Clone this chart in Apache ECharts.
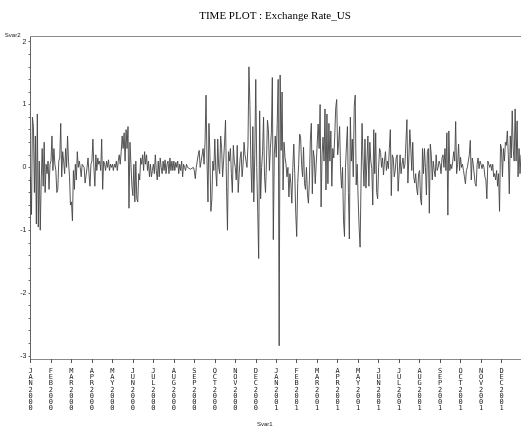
<!DOCTYPE html>
<html><head><meta charset="utf-8">
<script src="https://cdn.jsdelivr.net/npm/echarts@6/dist/echarts.min.js"></script>
<style>html,body{margin:0;padding:0;background:#fff}#c{width:521px;height:432px}</style>
</head><body><div id="c"></div>
<script>
const months = ['JAN2000','FEB2000','MAR2000','APR2000','MAY2000','JUN2000','JUL2000','AUG2000','SEP2000','OCT2000','NOV2000','DEC2000',
                'JAN2001','FEB2001','MAR2001','APR2001','MAY2001','JUN2001','JUL2001','AUG2001','SEP2001','OCT2001','NOV2001','DEC2001'];
const yLabels = [-3,-2,-1,0,1,2];
const yTicks = [-3,-2.8,-2.6,-2.4,-2.2,-2,-1.8,-1.6,-1.4,-1.2,-1,-0.8,-0.6,-0.4,-0.2,0,0.2,0.4,0.6,0.8,1,1.2,1.4,1.6,1.8,2];

const jan2000 = [-0.15,-0.75,0.8,0.65,-0.4,0.5,-0.9,0.85,-0.95,0.1,-1.0,-0.2,0.3,-0.3,0.4,-0.4,0.05,-0.1,0.1,-0.35,0.05];
const feb2000 = [0.1,0.5,-0.05,0.3,0.05,-0.05,-0.4,-0.35,0.1,0.15,0.7,-0.15,0.25,0.1,-0.1,0.3,0.0,0.5,0.1,-0.15,-0.6];
const mar2000 = [-0.55,-0.85,-0.05,-0.35,0.05,-0.2,0.25,0.0,0.1,0.0,-0.15,0.05,0.02,0.0,-0.25,-0.25,0.0,0.15,-0.1,-0.3,0.05];
const apr2000 = [0.1,0.45,0.0,-0.3,0.2,-0.05,0.15,0.05,0.1,-0.05,0.45,-0.35,0.1,0.05,-0.05,0.1,0.0,0.12,-0.05,0.05,0.0];
const may2000 = [0.05,-0.05,0.05,0.0,0.1,-0.05,0.1,0.2,0.05,0.25,0.5,0.3,0.55,0.1,0.6,0.3,0.65,-0.65,0.4,0.05,-0.3];
const jun2000 = [-0.45,0.05,-0.55,0.1,-0.5,-0.55,-0.1,-0.2,0.15,0.05,0.2,-0.05,0.25,0.05,0.2,-0.05,0.1,-0.15,0.05,-0.15,-0.05];
const jul2000 = [0.05,-0.1,0.2,-0.05,-0.2,0.1,-0.15,0.15,0.0,-0.1,0.1,-0.05,0.12,-0.1,0.05,0.1,-0.1,0.15,-0.05,0.1,-0.05];
const aug2000 = [0.1,-0.05,0.08,0.0,0.1,-0.1,0.05,-0.05,0.1,-0.15,0.05,0.0,-0.05,0.05,0.0,-0.02,0.02,-0.03,0.0,-0.05,0.0];
const sep2000 = [-0.05,-0.18,0.0,0.1,0.2,0.27,0.0,-0.02,0.0,0.3,0.05,0.4,1.15,0.1,-0.55,0.7,0.2,-0.7,-0.5,0.1,-0.05];
const oct2000 = [0.45,-0.05,-0.3,0.45,0.0,-0.1,0.5,0.3,-0.15,0.1,0.4,0.75,-0.3,-1.0,0.25,0.1,0.3,-0.1,-0.4,0.35,0.1];
const nov2000 = [0.0,-0.2,0.35,-0.4,-0.1,0.15,0.25,-0.15,0.05,0.4,0.2,0.1,0.0,0.35,1.6,1.0,0.05,-0.4,0.65,-0.55,0.2];
const dec2000 = [1.4,0.0,-0.7,-1.45,0.9,-0.5,0.0,0.25,0.8,-0.15,-0.4,0.1,0.75,0.6,-0.05,0.3,0.55,1.43,-1.15,0.2,0.5];
const jan2001 = [0.16,0.7,1.4,-2.84,1.47,0.27,1.2,-0.36,0.4,0.16,0.05,-0.15,0.0,-0.47,-0.1,-0.26,-0.57,0.0,0.37,-0.1,-0.73];
const feb2001 = [-1.1,-0.26,0.05,0.53,0.48,0.05,-0.15,0.32,-0.26,-0.35,0.0,-0.42,-0.57,-0.2,0.45,0.7,-0.42,0.27,0.15,-0.26,0.05];
const mar2001 = [0.05,0.69,0.3,1.0,-0.63,0.2,0.48,0.1,0.93,-0.36,0.85,-0.26,0.7,0.1,0.58,-0.3,0.3,0.15,0.5,0.95,1.08];
const apr2001 = [0.2,0.4,0.65,-0.05,-0.33,0.0,-0.85,-1.1,0.0,0.34,0.65,-0.4,-1.14,0.8,0.1,0.45,-0.15,0.97,1.15,-0.28,0.05];
const may2001 = [-0.5,-0.96,-1.27,-0.2,0.7,0.1,-0.3,0.45,-0.33,0.1,0.5,-0.3,0.4,0.1,-0.02,-0.6,0.6,-0.1,0.55,-0.4,-0.5];
const jun2001 = [0.0,0.3,0.24,0.0,0.15,-0.12,0.1,0.25,-0.05,0.1,-0.02,0.3,0.6,-0.45,0.2,0.15,-0.15,-0.05,0.15,0.2,-0.38];
const jul2001 = [-0.35,0.2,-0.1,0.05,0.15,-0.02,0.05,0.4,0.76,-0.25,0.15,0.6,0.3,-0.05,0.4,-0.15,-0.25,-0.1,-0.33,-0.44,-0.1];
const aug2001 = [-0.05,-0.5,-0.6,0.3,-0.1,0.3,0.0,-0.44,0.25,0.3,-0.73,0.37,0.2,-0.2,0.1,-0.05,-0.15,0.2,-0.05,0.0,0.1];
const sep2001 = [0.05,-0.1,0.15,0.2,0.0,0.3,-0.05,0.55,-0.76,0.58,-0.05,0.05,-0.02,0.1,0.25,0.1,0.73,-0.1,0.05,0.37,-0.05];
const oct2001 = [0.16,0.0,0.05,-0.05,-0.15,-0.26,-0.05,0.0,0.1,0.2,0.43,-0.2,0.15,0.05,0.05,-0.26,-0.3,0.05,0.15,-0.02,0.1];
const nov2001 = [0.05,-0.02,0.05,0.0,-0.15,-0.2,-0.5,0.1,0.05,0.0,0.05,-0.05,0.05,-0.15,-0.1,-0.2,-0.05,-0.3,-0.1,-0.7,0.37];
const dec2001 = [0.3,-0.15,0.3,0.1,0.4,0.35,0.58,0.2,-0.42,0.5,0.15,0.9,0.3,0.1,0.93,0.1,0.74,-0.15,0.3,-0.1,0.2];

const monthValues = [jan2000,feb2000,mar2000,apr2000,may2000,jun2000,jul2000,aug2000,sep2000,oct2000,nov2000,dec2000,
                     jan2001,feb2001,mar2001,apr2001,may2001,jun2001,jul2001,aug2001,sep2001,oct2001,nov2001,dec2001];

const categories = [];
const values = [];
const monthStart = {};
monthValues.forEach((arr, m) => {
  arr.forEach((v, j) => {
    if (j === 0) monthStart[categories.length] = true;
    categories.push(months[m] + '|' + j);
    values.push(v);
  });
});

const chart = echarts.init(document.getElementById('c'), null, {renderer: 'canvas'});
const axisGray = '#8a8a8a';
chart.setOption({
  animation: false,
  backgroundColor: '#fff',
  title: {
    text: 'TIME PLOT : Exchange Rate_US',
    left: 270, top: 6, textAlign: 'center',
    textStyle: {fontFamily: 'Liberation Serif', fontSize: 11, fontWeight: 'normal', color: '#000'}
  },
  grid: {left: 30.5, right: -2.4, top: 36.7, bottom: 70, containLabel: false},
  xAxis: [{
    type: 'category',
    data: categories,
    boundaryGap: false,
    position: 'bottom',
    name: 'Svar1',
    nameLocation: 'middle',
    nameGap: 62,
    nameTextStyle: {fontFamily: 'Liberation Sans', fontSize: 6, color: '#222', padding: [0, 22, 0, 0]},
    axisLine: {onZero: false, lineStyle: {color: axisGray, width: 1}},
    axisTick: {show: true, length: 4, lineStyle: {color: '#555'}, interval: (i) => !!monthStart[i]},
    axisLabel: {
      interval: (i) => !!monthStart[i],
      formatter: (v) => v.split('|')[0].split('').join('\n'),
      fontFamily: 'DejaVu Sans Mono', fontSize: 7, lineHeight: 6.2, color: '#222', margin: 9
    },
    splitLine: {show: false}
  }, {
    type: 'category',
    data: categories,
    position: 'top',
    boundaryGap: false,
    axisLine: {onZero: false, lineStyle: {color: axisGray, width: 1}},
    axisTick: {show: false},
    axisLabel: {show: false},
    splitLine: {show: false}
  }],
  yAxis: {
    type: 'value',
    min: -3.05, max: 2.08,
    name: 'Svar2',
    nameLocation: 'end',
    nameGap: 1,
    nameTextStyle: {fontFamily: 'Liberation Sans', fontSize: 6, color: '#222', align: 'right', verticalAlign: 'middle', padding: [0, 10, 0, 0]},
    axisLine: {show: true, onZero: false, lineStyle: {color: '#666', width: 1}},
    axisTick: {show: true, length: 2, lineStyle: {color: '#666'}, customValues: yTicks},
    axisLabel: {customValues: yLabels, fontFamily: 'Liberation Sans', fontSize: 7, color: '#222', margin: 4},
    splitLine: {show: false}
  },
  series: [{
    type: 'line',
    data: values,
    showSymbol: false,
    symbol: 'none',
    sampling: null,
    lineStyle: {color: '#444', width: 0.9},
    silent: true
  }]
});
</script></body></html>
